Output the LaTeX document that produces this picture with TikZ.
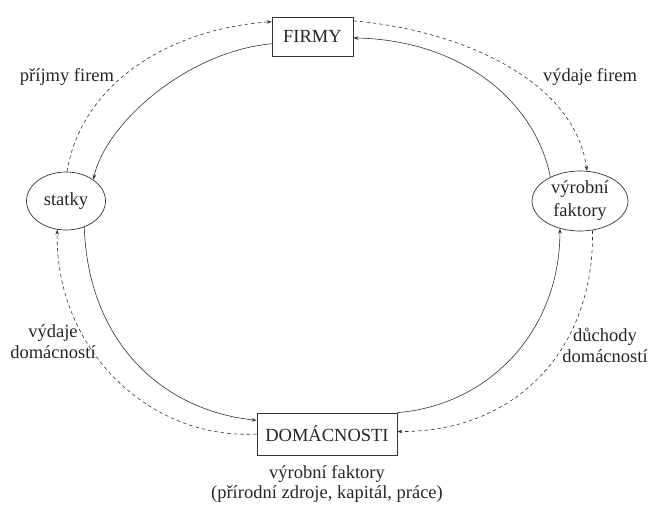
\documentclass[tikz,border=0pt]{standalone}
\usepackage{fontspec}
\setmainfont{Liberation Serif}
\usetikzlibrary{arrows.meta,shapes.geometric}
\begin{document}
\begin{tikzpicture}[x=1pt,y=-1pt,
  every node/.style={text=black!85, font=\fontsize{18.5}{21}\selectfont},
  boxnode/.style={draw=black!80, line width=0.7pt, inner sep=0pt},
  ellnode/.style={draw=black!80, line width=0.7pt, ellipse, inner sep=0pt, align=center},
  lbl/.style={align=center, inner sep=0pt},
  flow/.style={draw=black!80, line width=0.6pt, -{Stealth[length=5pt,width=3.6pt]}},
  money/.style={flow, dash pattern=on 3.5pt off 3pt}]
\useasboundingbox (0,0) rectangle (650,506);
\node[boxnode, minimum width=81pt, minimum height=39pt] (firmy) at (312.5,36.5) {FIRMY};
\node[boxnode, minimum width=140pt, minimum height=42pt] (dom) at (327,434) {DOMÁCNOSTI};
\node[ellnode, minimum width=79pt, minimum height=58pt] (statky) at (66,201) {statky};
\node[ellnode, minimum width=96pt, minimum height=60pt, font=\fontsize{18.5}{23}\selectfont] (vf) at (580,201) {výrobní\\faktory};
\node[lbl] (l1) at (67,77) {příjmy firem};
\node[lbl] (l2) at (590,77) {výdaje firem};
\node[lbl] (l3) at (53,342) {výdaje\\domácností};
\node[lbl] (l4) at (605,345) {důchody\\domácností};
\node[lbl, font=\fontsize{18.5}{20}\selectfont] (l5) at (327,484) {výrobní faktory\\(přírodní zdroje, kapitál, práce)};
% goods / factors (solid)
\draw[flow] (firmy.190) .. controls (185,52) and (105,125) .. (statky.38);
\draw[flow] (statky.-55) .. controls (88,340) and (160,410) .. (dom.169);
\draw[flow] (dom.north east) .. controls (490,405) and (560,330) .. (vf.-126);
\draw[flow] (vf.141) .. controls (535,100) and (460,40) .. (firmy.-2);
% money (dashed)
\draw[money] (statky.88) .. controls (80,90) and (160,30) .. (firmy.160);
\draw[money] (firmy.21) .. controls (460,30) and (575,80) .. (vf.77);
\draw[money] (vf.-67) .. controls (595,345) and (520,432) .. (dom.2);
\draw[money] (dom.west) .. controls (150,440) and (55,350) .. (statky.-107);
\end{tikzpicture}
\end{document}
